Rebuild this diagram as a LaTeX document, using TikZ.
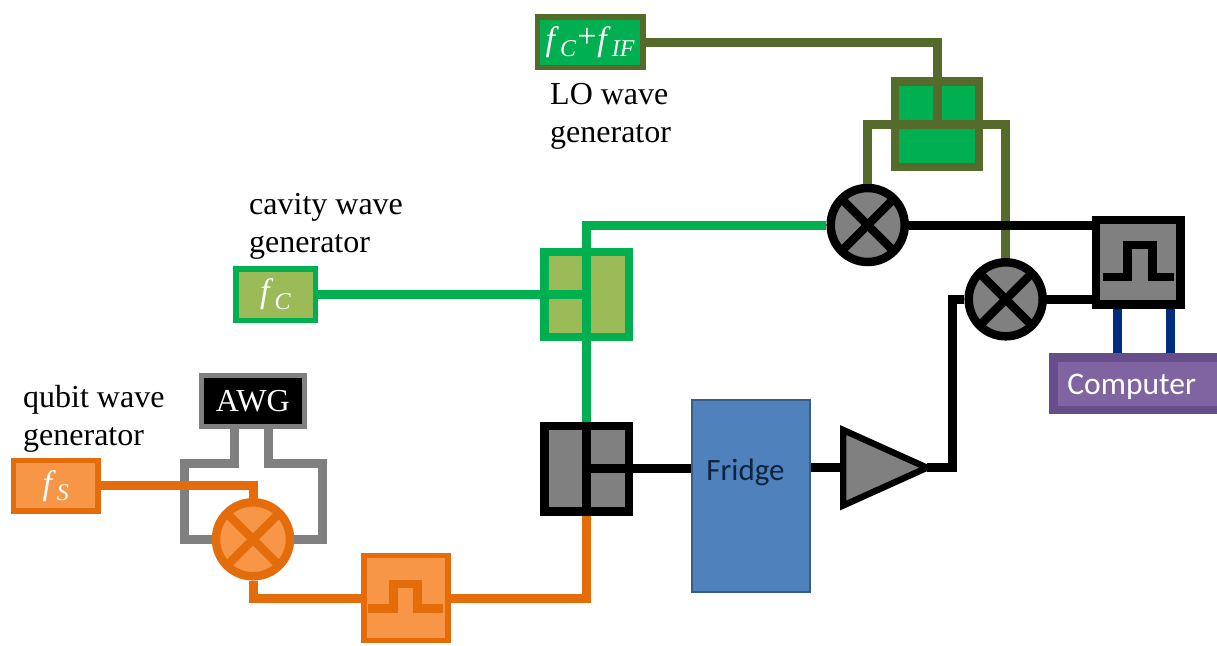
\documentclass[tikz,border=0pt]{standalone}
\usepackage{fontspec}
\setmainfont{Liberation Serif}
\newfontfamily\calfont{Carlito}
\usetikzlibrary{calc}
\definecolor{cgreen}{HTML}{00B050}
\definecolor{colive}{HTML}{556B2B}
\definecolor{cleaf}{HTML}{9BBB59}
\definecolor{corange}{HTML}{E46C0A}
\definecolor{cpeach}{HTML}{F79646}
\definecolor{cgray}{HTML}{808080}
\definecolor{cnavy}{HTML}{002C7F}
\definecolor{cpurple}{HTML}{8064A2}
\definecolor{cdpurple}{HTML}{684D8B}
\definecolor{cfridge}{HTML}{4F81BD}
\definecolor{cfridgeb}{HTML}{385D8A}
\definecolor{ctext}{HTML}{0F243E}
\newcommand{\fsym}[1]{\textit{f}\kern1pt\raisebox{-6.5pt}{\fontsize{24}{24}\selectfont\textit{#1}}}
\tikzset{
  x=1pt,y=-1pt,
  box/.style args={#1/#2/#3/#4/#5}{rectangle,draw=#1,fill=#2,line width=#3pt,inner sep=0pt,
    minimum width=#4pt-#3pt,minimum height=#5pt-#3pt,line join=miter},
  mixer/.style 2 args={circle,draw=#1,fill=#2,line width=8.5pt,inner sep=0pt,minimum size=74pt,
    path picture={\draw[#1,line width=8.5pt]
      (path picture bounding box.south west)--(path picture bounding box.north east)
      (path picture bounding box.north west)--(path picture bounding box.south east);}},
  wire/.style={draw=#1,line width=9pt,line join=miter,line cap=butt},
  pulseline/.style={draw=#1,line width=8.5pt,line join=miter,line cap=butt},
  caption/.style={anchor=north west,align=left,inner sep=0pt,font=\fontsize{32}{38}\selectfont,text=black},
}
\begin{document}
\begin{tikzpicture}
\useasboundingbox (0,0) rectangle (1217,645);
% boxes
\node[box={colive/cgreen/5.5/111/56},text=white,font=\fontsize{34}{34}\selectfont] (lo) at (590.2,42) {\fsym{C}\kern1pt\raisebox{3pt}{+}\kern1pt\fsym{IF}};
\node[box={colive/cgreen/8.5/92.6/94}] (losplit) at (937,124) {};
\node[box={cgreen/cleaf/5.5/85/57},text=white,font=\fontsize{34}{34}\selectfont] (cav) at (275.5,294.5) {\fsym{C}};
\node[box={cgreen/cleaf/8.5/93/93.3}] (csplit) at (586.5,294.5) {};
\node[box={black/cgray/8.5/93/94}] (bsplit) at (586.5,468.7) {};
\node[box={corange/cpeach/5.5/90/56.3},text=white,font=\fontsize{34}{34}\selectfont] (fs) at (55.7,485.8) {\fsym{S}};
\node[box={cgray/black/5/107.7/56.3},text=white,font=\fontsize{32}{32}\selectfont] (awg) at (252.8,400.8) {AWG};
\node[box={corange/cpeach/5.7/89.7/90.6}] (pulseb) at (405.8,598) {};
\node[box={black/cgray/8.5/93.3/93.3}] (pulsea) at (1138.3,262.3) {};
\node[box={cdpurple/cpurple/8.4/175.7/60.7}] (comp) at (1137.2,383.7) {};
\node[box={cfridgeb/cfridge/2/119.7/193.7}] (fridge) at (751.2,495.9) {};
\node[mixer={black}{cgray}] (mixa) at (867.7,225) {};
\node[mixer={black}{cgray}] (mixb) at (1005.7,299.3) {};
\node[mixer={corange}{cpeach}] (mixc) at (253,539.3) {};
% amplifier
\coordinate (ampin) at (843.2,467.7);
\coordinate (amptip) at (927,467.7);
\draw[draw=black,fill=cgray,line width=6.4pt,line join=miter,miter limit=10]
  (843.2,430) -- (amptip) -- (843.2,505.5) -- cycle;
% pulse glyphs
\draw[pulseline=black] (1102.7,277) -- (1127.3,277) -- (1127.3,245) -- (1152.3,245) -- (1152.3,277) -- (1174.3,277);
\draw[pulseline=corange] (368,608.3) -- (393.3,608.3) -- (393.3,584) -- (417.7,584) -- (417.7,608.3) -- (442.7,608.3);
% olive wires
\draw[wire=colive] (lo.east) -| (losplit.center);
\draw[wire=colive] (mixa.north) |- (losplit.center) -| (mixb.north);
% green wires
\draw[wire=cgreen] (cav.east) -- (csplit.center);
\draw[wire=cgreen] (mixa.west) -| (bsplit.north);
% gray wires
\draw[wire=cgray] ([xshift=-18.5pt]awg.south) -- ++(0,35) -- ++(-50,0) |- (mixc.west);
\draw[wire=cgray] ([xshift=15.2pt]awg.south) -- ++(0,35) -- ++(54.3,0) |- (mixc.east);
% orange wires
\draw[wire=corange] (fs.east) -| (mixc.north);
\draw[wire=corange] (mixc.south) |- (pulseb.west);
\draw[wire=corange] (pulseb.east) -| (bsplit.south);
% black wires
\draw[wire=black] (bsplit.north) -- (bsplit.south);
\draw[wire=black] (bsplit.center) -- (bsplit.center -| fridge.west);
\draw[wire=black] (fridge.east |- ampin) -- (ampin);
\draw[wire=black] (amptip) -- ++(25.7,0) |- (mixb.west);
\draw[wire=black] (mixa.east) -- (mixa.east -| pulsea.west);
\draw[wire=black] (mixb.east) -- (mixb.east -| pulsea.west);
% navy wires
\draw[wire=cnavy] ([xshift=-21pt]pulsea.south) -- ([xshift=-21pt]pulsea.south |- comp.north);
\draw[wire=cnavy] ([xshift=32.4pt]pulsea.south) -- ([xshift=32.4pt]pulsea.south |- comp.north);
% texts
\node[inner sep=0pt,text=ctext,font=\calfont\fontsize{31}{31}\selectfont] (fridgetext) at (745.5,472) {Fridge};
\node[inner sep=0pt,text=white,font=\calfont\fontsize{31.5}{31.5}\selectfont] (comptext) at (1131.7,387) {Computer};
\node[caption] (locap) at (550,83) {LO wave\\generator};
\node[caption] (cavcap) at (249,193) {cavity wave\\generator};
\node[caption] (qubcap) at (23,385) {qubit wave\\generator};
\end{tikzpicture}
\end{document}
